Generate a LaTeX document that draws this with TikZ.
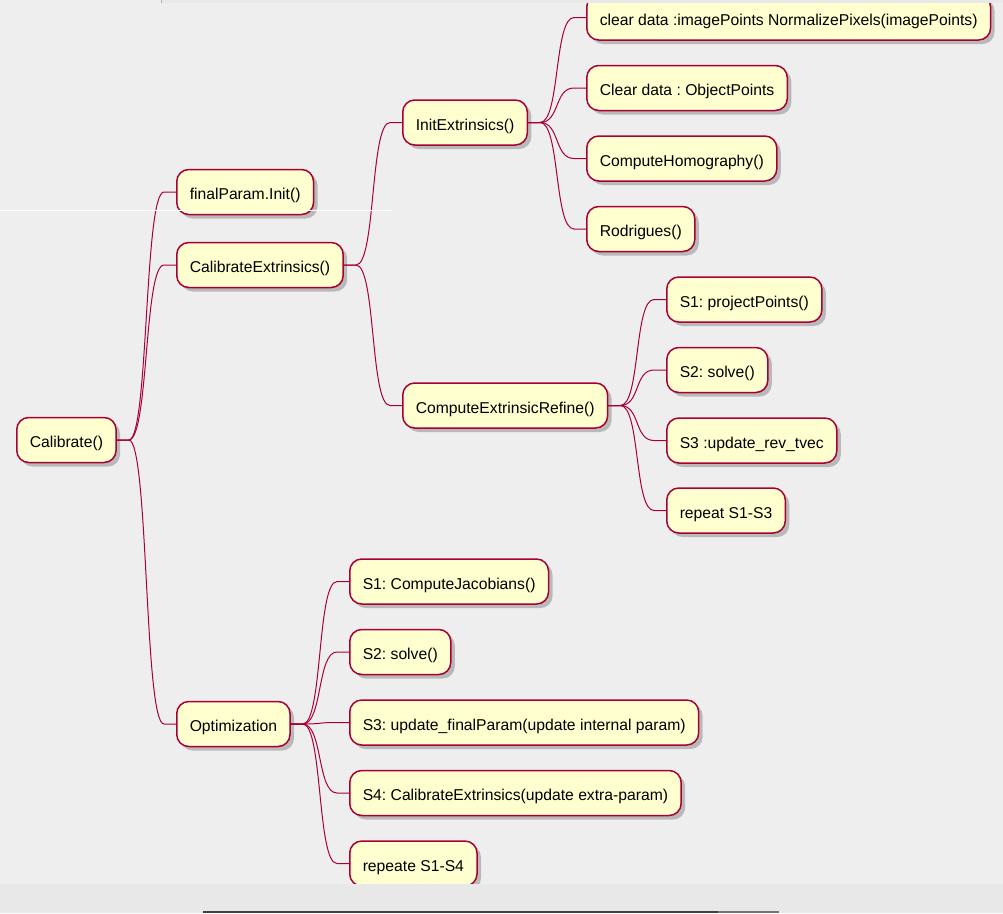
\documentclass[tikz,border=0pt]{standalone}
\usepackage{fontspec}
\setmainfont{Liberation Sans}
\usetikzlibrary{calc,shadows}
\definecolor{umlred}{HTML}{A80036}
\definecolor{umlfill}{HTML}{FEFECE}
\definecolor{umlbg}{HTML}{EEEEEE}
\definecolor{bandgray}{HTML}{E8E8E8}
\frenchspacing

\begin{document}
\begin{tikzpicture}[x=1pt,y=-1pt,font=\fontsize{15.7}{18}\selectfont,
  box/.style={draw=umlred,line width=1.5pt,fill=umlfill,rounded corners=12pt,anchor=west,
    minimum height=45pt,inner xsep=13pt,inner ysep=0pt,text height=15.5pt,text depth=0pt,
    drop shadow={shadow xshift=4pt,shadow yshift=-4pt,opacity=.22,fill=black}},
  link/.style={draw=umlred,line width=1pt}]
\fill[umlbg] (0,0) rectangle (1003,913);
\useasboundingbox (0,0) rectangle (1003,913);
\node[box] (cal) at (16,440) {Calibrate()};
\node[box] (fin) at (176,192) {finalParam.Init()};
\node[box] (cext) at (176,265) {CalibrateExtrinsics()};
\node[box] (opt) at (176,724) {Optimization};
\node[box] (init) at (402,122.5) {InitExtrinsics()};
\node[box] (cer) at (402,405.5) {ComputeExtrinsicRefine()};
\node[box] (clr) at (586,17.5) {clear data :imagePoints NormalizePixels(imagePoints)};
\node[box] (obj) at (586,88) {Clear data : ObjectPoints};
\node[box] (homog) at (586,158.5) {ComputeHomography()};
\node[box] (rodr) at (586,229) {Rodrigues()};
\node[box] (pp) at (666,299.5) {S1: projectPoints()};
\node[box] (solv) at (666,370) {S2: solve()};
\node[box] (urt) at (666,440.5) {S3 :update\_rev\_tvec};
\node[box] (rep) at (666,510.5) {repeat S1-S3};
\node[box] (jac) at (349,581.5) {S1: ComputeJacobians()};
\node[box] (osolv) at (349,652) {S2: solve()};
\node[box] (ufp) at (349,722.5) {S3: update\_finalParam(update internal param)};
\node[box] (uext) at (349,793) {S4: CalibrateExtrinsics(update extra-param)};
\node[box] (orep) at (349,863.5) {repeate S1-S4};
\foreach \p/\c in {cal/fin,cal/cext,cal/opt,cext/init,cext/cer,init/clr,init/obj,init/homog,init/rodr,
  cer/pp,cer/solv,cer/urt,cer/rep,opt/jac,opt/osolv,opt/ufp,opt/uext,opt/orep}
  \draw[link] (\p.east) -- ++(12,0) .. controls +(20,0) and +(-20,0) .. ($(\c.west)+(-12,0)$) -- (\c.west);
\fill[bandgray] (0,884) rectangle (1003,913);
\fill[bandgray] (161,0) rectangle (1003,3);
\draw[gray!60,line width=1pt] (161,0) -- (161,3);
\draw[white,line width=.8pt] (0,210) -- (392,210);
\draw[black!75,line width=2pt] (203,912) -- (718,912);
\draw[black!55,line width=2pt] (718,912) -- (779,912);
\end{tikzpicture}
\end{document}
